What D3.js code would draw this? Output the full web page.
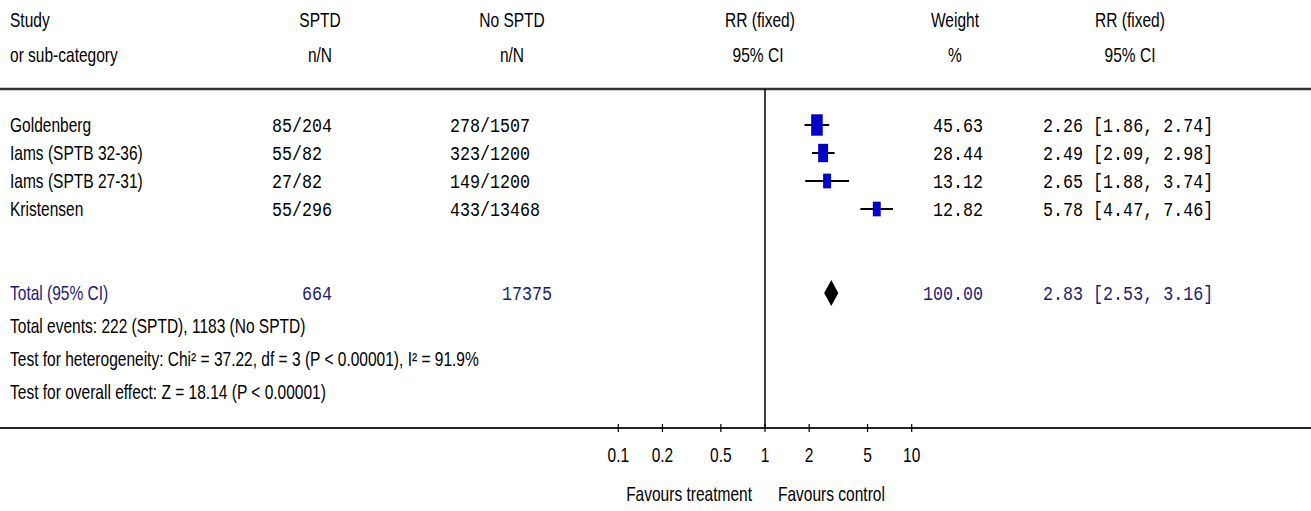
<!DOCTYPE html>
<html>
<head>
<meta charset="utf-8">
<script src="https://cdn.jsdelivr.net/npm/d3@7"></script>
<style>
  body { margin: 0; background: #fff; }
  .sans { font-family: "Liberation Sans", Arial, sans-serif; font-size: 16px; }
  .mono { font-family: "Liberation Mono", "Courier New", monospace; font-size: 16.7px; }
</style>
</head>
<body>
<svg id="chart" width="1311" height="511"></svg>
<script>
const studies = ["Goldenberg", "Iams (SPTB 32-36)", "Iams (SPTB 27-31)", "Kristensen"];
const sptd = ["85/204", "55/82", "27/82", "55/296"];
const noSptd = ["278/1507", "323/1200", "149/1200", "433/13468"];
const rr = [2.26, 2.49, 2.65, 5.78];
const lo = [1.86, 2.09, 1.88, 4.47];
const hi = [2.74, 2.98, 3.74, 7.46];
const weight = [45.63, 28.44, 13.12, 12.82];

const totalRR = 2.83, totalLo = 2.53, totalHi = 3.16;
const totalN = ["664", "17375"];
const totalWeight = 100.00;
const statLines = [
  "Total events: 222 (SPTD), 1183 (No SPTD)",
  "Test for heterogeneity: Chi\u00b2 = 37.22, df = 3 (P < 0.00001), I\u00b2 = 91.9%",
  "Test for overall effect: Z = 18.14 (P < 0.00001)"
];
const ticks = [0.1, 0.2, 0.5, 1, 2, 5, 10];

const width = 1311, height = 511;
const navy = "#1c1c78";
const svg = d3.select("#chart");

const x = d3.scaleLog().domain([0.01, 100]).range([471.6, 1058.4]);
const rowY = d3.scaleLinear().domain([0, 3]).range([125, 209]);
const statY = d3.scaleLinear().domain([0, 2]).range([326, 392]);
const totalY = 293, topLine = 89, axisY = 428;
const boxW = w => 3.8 + 1.15 * Math.sqrt(w);

function txt(s, px, py, cls, anchor, fill) {
  const sx = cls === "sans" ? 0.97 : 1;
  svg.append("text")
    .attr("class", cls)
    .attr("transform", `translate(${px},${py}) scale(${sx},1.25)`)
    .attr("dy", "0.35em")
    .attr("text-anchor", anchor || "start")
    .attr("fill", fill || "#000")
    .text(s);
}

// headers
txt("Study", 10, 20, "sans");
txt("or sub-category", 10, 55, "sans");
txt("SPTD", 320, 20, "sans", "middle");
txt("n/N", 320, 55, "sans", "middle");
txt("No SPTD", 512, 20, "sans", "middle");
txt("n/N", 512, 55, "sans", "middle");
txt("RR (fixed)", 760, 20, "sans", "middle");
txt("95% CI", 758, 55, "sans", "middle");
txt("Weight", 955, 20, "sans", "middle");
txt("%", 955, 55, "sans", "middle");
txt("RR (fixed)", 1130, 20, "sans", "middle");
txt("95% CI", 1130, 55, "sans", "middle");

// rules
svg.append("line").attr("x1", 0).attr("x2", width).attr("y1", topLine).attr("y2", topLine)
  .attr("stroke", "#333").attr("stroke-width", 2.5);
svg.append("line").attr("x1", 0).attr("x2", width).attr("y1", axisY).attr("y2", axisY)
  .attr("stroke", "#222").attr("stroke-width", 2);
svg.append("line").attr("x1", x(1)).attr("x2", x(1)).attr("y1", topLine).attr("y2", axisY)
  .attr("stroke", "#000").attr("stroke-width", 1.5);

// study rows
studies.forEach((s, i) => {
  const y = rowY(i);
  txt(s, 10, y, "sans");
  txt(sptd[i], 272, y, "mono");
  txt(noSptd[i], 450, y, "mono");
  txt(weight[i].toFixed(2), 983, y, "mono", "end");
  txt(`${rr[i].toFixed(2)} [${lo[i].toFixed(2)}, ${hi[i].toFixed(2)}]`, 1043, y, "mono");

  svg.append("line")
    .attr("x1", x(lo[i])).attr("x2", x(hi[i]))
    .attr("y1", y).attr("y2", y)
    .attr("stroke", "#000").attr("stroke-width", 2);
  const w = boxW(weight[i]), h = w * 1.85;
  svg.append("rect")
    .attr("x", x(rr[i]) - w / 2).attr("y", y - h / 2)
    .attr("width", w).attr("height", h)
    .attr("fill", "#0000c8");
});

// total row
txt("Total (95% CI)", 10, totalY, "sans", "start", navy);
txt(totalN[0], 302, totalY, "mono", "start", navy);
txt(totalN[1], 502, totalY, "mono", "start", navy);
txt(totalWeight.toFixed(2), 983, totalY, "mono", "end", navy);
txt(`${totalRR.toFixed(2)} [${totalLo.toFixed(2)}, ${totalHi.toFixed(2)}]`, 1043, totalY, "mono", "start", navy);
svg.append("path")
  .attr("d", `M${x(totalLo)},${totalY} L${x(totalRR)},${totalY - 13} L${x(totalHi)},${totalY} L${x(totalRR)},${totalY + 13} Z`)
  .attr("fill", "#000");

statLines.forEach((s, i) => txt(s, 10, statY(i), "sans"));

// axis ticks
ticks.forEach(t => {
  svg.append("line").attr("x1", x(t)).attr("x2", x(t))
    .attr("y1", axisY - 4).attr("y2", axisY + 4)
    .attr("stroke", "#000").attr("stroke-width", 1.2);
  txt(String(t), x(t), 455, "sans", "middle");
});

txt("Favours treatment", 752, 494, "sans", "end");
txt("Favours control", 778, 494, "sans", "start");
</script>
</body>
</html>
